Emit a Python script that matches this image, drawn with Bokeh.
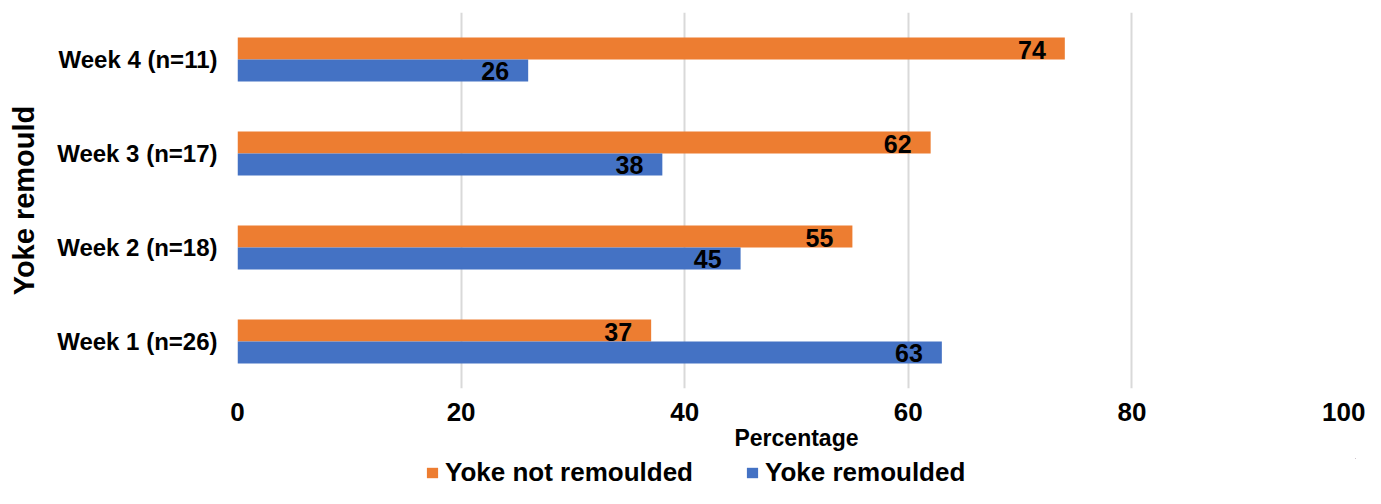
from bokeh.plotting import figure
from bokeh.layouts import column
from bokeh.models import ColumnDataSource, FactorRange, Range1d, Legend, LegendItem, FixedTicker
from bokeh.transform import dodge
from bokeh.core.properties import value
from bokeh.embed import file_html
from bokeh.resources import INLINE

categories = ["Week 1 (n=26)", "Week 2 (n=18)", "Week 3 (n=17)", "Week 4 (n=11)"]
not_remoulded = [37, 55, 62, 74]
remoulded = [63, 45, 38, 26]
x_ticks = [0, 20, 40, 60, 80, 100]
series_names = ["Yoke not remoulded", "Yoke remoulded"]
colors = ["#ED7D31", "#4472C4"]

FONT = "Liberation Sans"

src = ColumnDataSource(dict(
    cat=categories,
    nr=not_remoulded,
    r=remoulded,
    nr_lbl=[str(v) for v in not_remoulded],
    r_lbl=[str(v) for v in remoulded],
))

p = figure(width=1365, height=458,
           y_range=FactorRange(factors=categories),
           x_range=Range1d(0, 100),
           output_backend="svg", toolbar_location=None,
           min_border_left=237, min_border_right=10,
           min_border_top=12, min_border_bottom=70)

off = 0.117
bh = 0.234
p.hbar(y=dodge('cat', off, range=p.y_range), left=0, right='nr', height=bh,
       fill_color=colors[0], line_color=None, source=src)
p.hbar(y=dodge('cat', -off, range=p.y_range), left=0, right='r', height=bh,
       fill_color=colors[1], line_color=None, source=src)

for col, lbl, o in (('nr', 'nr_lbl', off), ('r', 'r_lbl', -off)):
    p.text(x=col, y=dodge('cat', o, range=p.y_range), text=lbl, source=src,
           x_offset=-19, y_offset=1, text_align='right', text_baseline='middle',
           text_font=value(FONT), text_font_style='bold', text_font_size='25px',
           text_color='black')

p.outline_line_color = None
p.xgrid.grid_line_color = "#d9d9d9"
p.xgrid.grid_line_width = 2
p.ygrid.grid_line_color = None
p.xaxis.ticker = FixedTicker(ticks=x_ticks)

for ax in (p.xaxis[0], p.yaxis[0]):
    ax.axis_line_color = None
    ax.major_tick_line_color = None
    ax.minor_tick_line_color = None
    ax.major_tick_out = 0
    ax.major_tick_in = 0
    ax.major_label_text_font = FONT
    ax.major_label_text_font_style = 'bold'
    ax.major_label_text_color = 'black'
    ax.axis_label_text_font = FONT
    ax.axis_label_text_font_style = 'bold'
    ax.axis_label_text_color = 'black'

p.yaxis.major_label_text_font_size = '24px'
p.yaxis.major_label_standoff = 20
p.yaxis.axis_label = "Yoke remould"
p.yaxis.axis_label_text_font_size = '29px'
p.yaxis.axis_label_standoff = 14

p.xaxis.major_label_text_font_size = '26px'
p.xaxis.major_label_standoff = 14
p.xaxis.axis_label = "Percentage"
p.xaxis.axis_label_text_font_size = '23px'
p.xaxis.axis_label_standoff = 1

# separate strip holding the legend, below the chart
pl = figure(width=1365, height=30, x_range=Range1d(0, 1), y_range=Range1d(0, 1),
            x_axis_type=None, y_axis_type=None,
            output_backend="svg", toolbar_location=None,
            min_border_left=237, min_border_right=10, min_border_top=0, min_border_bottom=0)
pl.outline_line_color = None
pl.grid.visible = False
# legend proxies: zero-width bars lying outside this strip's range (not visible)
lr1 = pl.hbar(y='nr', left='nr', right='nr', height=0.5, source=src,
              fill_color=colors[0], line_color=None)
lr2 = pl.hbar(y='r', left='r', right='r', height=0.5, source=src,
              fill_color=colors[1], line_color=None)

legend = Legend(items=[LegendItem(label=series_names[0], renderers=[lr1]),
                       LegendItem(label=series_names[1], renderers=[lr2])],
                orientation='horizontal', location=(188, 0),
                label_text_font=FONT, label_text_font_style='bold',
                label_text_font_size='26px', label_text_color='black',
                glyph_width=14, glyph_height=13, label_standoff=6,
                spacing=52, padding=0, margin=0,
                border_line_color=None, background_fill_alpha=0)
pl.add_layout(legend, 'center')

open("out.html", "w").write(file_html(column(p, pl, spacing=0), INLINE))
